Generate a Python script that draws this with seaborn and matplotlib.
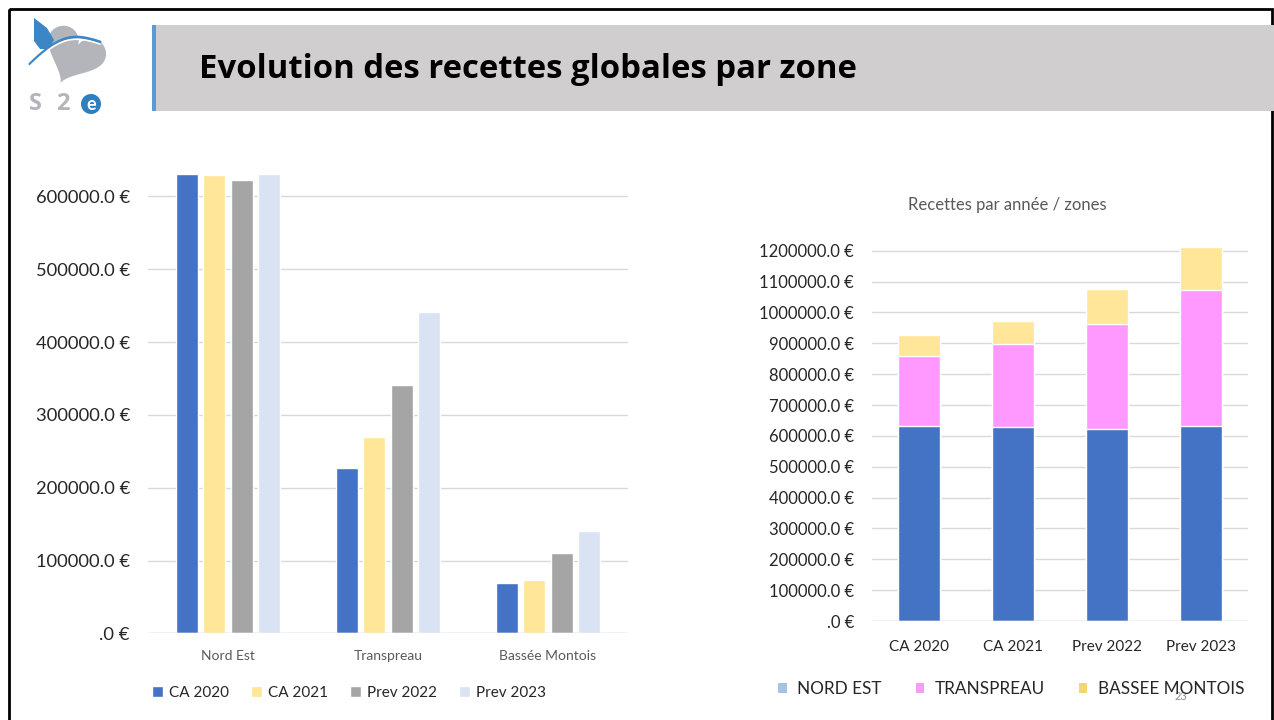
import numpy as np
import pandas as pd
import matplotlib
matplotlib.use("Agg")
import matplotlib.pyplot as plt
from matplotlib.patches import Rectangle, Polygon, Circle, Patch
from matplotlib.ticker import FuncFormatter
import seaborn as sns

# data
zones = ["Nord Est", "Transpreau", "Bassée Montois"]
years = ["CA 2020", "CA 2021", "Prev 2022", "Prev 2023"]
nord_est = [631300, 629500, 622700, 630500]
transpreau = [226600, 269600, 341000, 441000]
bassee = [68700, 73200, 110700, 140000]
left_ticks = [0, 100000, 200000, 300000, 400000, 500000, 600000]
right_ticks = list(range(0, 1300000, 100000))

year_colors = ["#4472C4", "#FFE699", "#A5A5A5", "#DAE3F3"]
stack_colors = ["#4472C4", "#FF99FF", "#FFE699"]
legend_colors = ["#A7C1E3", "#F59EF5", "#F5D66E"]

rows = []
for z, vals in zip(zones, [nord_est, transpreau, bassee]):
    for y, v in zip(years, vals):
        rows.append({"zone": z, "annee": y, "recette": v})
df = pd.DataFrame(rows)

tot = pd.DataFrame({
    "annee": years,
    "ne": nord_est,
    "ne_tr": np.add(nord_est, transpreau),
    "total": np.add(np.add(nord_est, transpreau), bassee),
})

sns.set_theme(style="white")
plt.rcParams["font.family"] = ["Lato", "DejaVu Sans"]

W, H = 1274, 720
fig = plt.figure(figsize=(W / 100, H / 100), dpi=100)


def euro(v, pos=None):
    if v == 0:
        return ".0 €"
    return f"{v:.1f} €"


# background: frame, header, logo
bg = fig.add_axes([0, 0, 1, 1])
bg.set_xlim(0, W)
bg.set_ylim(H, 0)
bg.axis("off")
bg.add_patch(Rectangle((9, 9), W - 11, H, fill=False, ec="black", lw=2))
bg.add_patch(Rectangle((153, 25), W - 153, 86, fc="#D0CECE", ec="none"))
bg.add_patch(Rectangle((152, 25), 4, 86, fc="#5B9BD5", ec="none"))
bg.text(199, 70, "Evolution des recettes globales par zone", fontsize=23.7,
        fontweight="bold", va="center", ha="left", color="black",
        family=["Open Sans", "DejaVu Sans"])

# logo: tilted grey heart, blue drop, wave, "S 2 e"
t = np.linspace(0, 2 * np.pi, 120)
hx = 16 * np.sin(t) ** 3
hy = -(13 * np.cos(t) - 5 * np.cos(2 * t) - 2 * np.cos(3 * t) - np.cos(4 * t))
th = np.radians(25)
rx = hx * np.cos(th) - hy * np.sin(th)
ry = hx * np.sin(th) + hy * np.cos(th)
bg.add_patch(Polygon(np.column_stack([74 + 1.9 * rx, 54 + 1.9 * ry]),
                     closed=True, fc="#B3B5BA", ec="none"))
bg.add_patch(Polygon([(34, 18), (47, 28), (54, 40), (49, 49), (40, 49), (34, 41)],
                     closed=True, fc="#3D86C6", ec="none"))
s = np.linspace(0, 1, 30)
bg.plot(30 + 70 * s, 64 - 22 * s - 14 * np.sin(np.pi * s), color="#3D86C6", lw=2.2)
bg.plot(30 + 70 * s, 66 - 22 * s - 14 * np.sin(np.pi * s), color="white", lw=1.2)
bg.text(29, 104, "S", fontsize=17, fontweight="bold", color="#B3B5BA",
        va="center", ha="left", family=["Open Sans", "DejaVu Sans"])
bg.text(56, 104, "2", fontsize=17, fontweight="bold", color="#B3B5BA",
        va="center", ha="left", family=["Open Sans", "DejaVu Sans"])
bg.add_patch(Circle((91, 104), 10, fc="#2E7FC0", ec="none"))
bg.text(91, 105, "e", fontsize=13, fontweight="bold", color="white",
        va="center", ha="center")
bg.text(1181, 697, "23", fontsize=8, color="#8C8C8C", va="center", ha="center")

# left chart: grouped bars
ax1 = fig.add_axes([148 / W, (H - 633.3) / H, 480 / W, 509.6 / H])
sns.barplot(data=df, x="zone", y="recette", hue="annee", palette=year_colors,
            width=0.69, gap=0.2, saturation=1, ax=ax1, errorbar=None)
ax1.set_xlim(-0.5, 2.5)
ax1.set_ylim(0, 700000)
ax1.set_yticks(left_ticks)
ax1.yaxis.set_major_formatter(FuncFormatter(euro))
ax1.grid(axis="y", color="#D9D9D9", lw=1)
ax1.set_axisbelow(True)
sns.despine(ax=ax1, left=True, bottom=True, top=True, right=True)
ax1.axhline(0, color="#D9D9D9", lw=1)
ax1.set_xlabel("")
ax1.set_ylabel("")
ax1.tick_params(axis="y", labelsize=13.2, labelcolor="#262626", length=0, pad=13)
ax1.tick_params(axis="x", labelsize=10, labelcolor="#595959", length=0, pad=12)
sns.move_legend(ax1, "center left", bbox_to_anchor=(-0.02, -0.117), ncol=4,
                frameon=False, title=None, fontsize=11, handlelength=0.7,
                handleheight=0.7, handletextpad=0.4, columnspacing=1.45)

# right chart: stacked bars (cumulative totals drawn back to front)
ax2 = fig.add_axes([872 / W, (H - 621) / H, 376 / W, 385.7 / H])
sns.barplot(data=tot, x="annee", y="total", color=stack_colors[2], saturation=1,
            width=0.44, ax=ax2, errorbar=None)
sns.barplot(data=tot, x="annee", y="ne_tr", color=stack_colors[1], saturation=1,
            width=0.44, ax=ax2, errorbar=None)
sns.barplot(data=tot, x="annee", y="ne", color=stack_colors[0], saturation=1,
            width=0.44, ax=ax2, errorbar=None)
ax2.set_xlim(-0.5, 3.5)
ax2.set_ylim(0, 1250000)
ax2.set_yticks(right_ticks)
ax2.yaxis.set_major_formatter(FuncFormatter(euro))
ax2.grid(axis="y", color="#D9D9D9", lw=1)
ax2.set_axisbelow(True)
sns.despine(ax=ax2, left=True, bottom=True, top=True, right=True)
ax2.axhline(0, color="#D9D9D9", lw=1)
ax2.set_xlabel("")
ax2.set_ylabel("")
ax2.tick_params(axis="y", labelsize=12, labelcolor="#262626", length=0, pad=13)
ax2.tick_params(axis="x", labelsize=11, labelcolor="#262626", length=0, pad=14)
fig.text(1007 / W, 1 - 205 / H, "Recettes par année / zones", fontsize=12,
         color="#595959", ha="center", va="center")
handles = [Patch(fc=c, ec="none") for c in legend_colors]
ax2.legend(handles, ["NORD EST", "TRANSPREAU", "BASSEE MONTOIS"],
           loc="center", bbox_to_anchor=(0.37, -0.177), ncol=3, frameon=False,
           fontsize=12.3, handlelength=0.5, handleheight=0.5, handletextpad=0.6,
           columnspacing=2.0)

fig.savefig("out.png", dpi=100)
